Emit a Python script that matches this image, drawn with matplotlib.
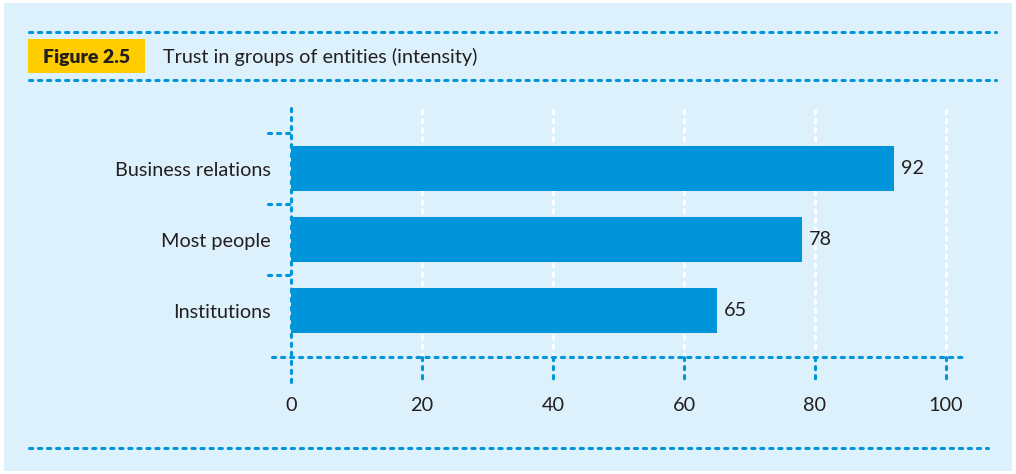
import matplotlib
matplotlib.use('Agg')
import matplotlib.pyplot as plt
from matplotlib.patches import Rectangle

# ---- data ----
categories = ['Business relations', 'Most people', 'Institutions']
values = [92, 78, 65]
xticks = [0, 20, 40, 60, 80, 100]
fig_label = 'Figure 2.5'
title = 'Trust in groups of entities (intensity)'

W, H = 1016, 474
BLUE = '#0095da'
BG = '#dcf1fb'
TXT = '#231f20'
YELLOW = '#ffcc00'
DASH = (0, (2.3, 4.2))
LW = 2.2
FS = 14.3

plt.rcParams['lines.scale_dashes'] = False
plt.rcParams['font.family'] = ['Lato', 'DejaVu Sans']

fig = plt.figure(figsize=(W / 100, H / 100), dpi=100, facecolor='white')

# background / header layer in pixel coordinates
bg = fig.add_axes([0, 0, 1, 1], zorder=0)
bg.set_xlim(0, W)
bg.set_ylim(H, 0)
bg.axis('off')
bg.add_patch(Rectangle((4, 3), W - 8, H - 6, color=BG, lw=0))
for y, x1 in [(32, 996), (80, 996), (448, 988)]:
    bg.plot([29, x1], [y, y], color=BLUE, lw=LW, ls=DASH, dash_capstyle='round')
bg.add_patch(Rectangle((28, 39), 117, 34, color=YELLOW, lw=0))
bg.text(86.5, 57, fig_label, ha='center', va='center', fontsize=14,
        fontweight='heavy', color=TXT)
bg.text(163, 57, title, ha='left', va='center', fontsize=FS, color=TXT)

# chart
ax = fig.add_axes([272 / W, 1 - 357 / H, 695 / W, 249 / H], zorder=1)
ax.patch.set_visible(False)
px = 100 / (946 - 291)
ax.set_xlim(-19 * px, (967 - 291) * px)
n = len(categories)
ypos = list(range(n))
ax.set_ylim(n - 1 + 46.5 / 71, -60.5 / 71)
for s in ax.spines.values():
    s.set_visible(False)

ax.barh(ypos, values, height=45 / 71, color=BLUE, zorder=2)
for y, v in zip(ypos, values):
    ax.text(v + 7 * px, y, str(v), ha='left', va='center', fontsize=FS, color=TXT)

xt = ax.get_xaxis_transform()
yt = ax.get_yaxis_transform()
# white gridlines
for t in xticks[1:]:
    ax.plot([t, t], [0, 1], transform=xt, color='white', lw=LW, ls=DASH, zorder=1,
            dash_capstyle='round')
# x axis line
ax.plot([0, 1], [0, 0], transform=ax.transAxes, color=BLUE, lw=LW, ls=DASH,
        clip_on=False, zorder=3, dash_capstyle='round')
# tick marks below axis
for t in xticks:
    lo = -28 / 249 if t == 0 else -25 / 249
    hi = 1 if t == 0 else 0
    ax.plot([t, t], [hi, lo], transform=xt, color=BLUE, lw=LW, ls=DASH,
            clip_on=False, zorder=3, dash_capstyle='round')
# category boundary ticks
for b in [-0.5 + i for i in range(n)]:
    ax.plot([-4 / 695, 19 / 695], [b, b], transform=yt, color=BLUE, lw=LW, ls=DASH,
            clip_on=False, zorder=3, dash_capstyle='round')

ax.set_xticks(xticks)
ax.set_xticklabels([str(t) for t in xticks], fontsize=FS, color=TXT)
ax.set_yticks(ypos)
ax.set_yticklabels(categories, fontsize=FS, color=TXT)
ax.tick_params(axis='x', length=0, pad=29)
ax.tick_params(axis='y', length=0, pad=1)

fig.savefig('out.png', dpi=100, facecolor='white')
